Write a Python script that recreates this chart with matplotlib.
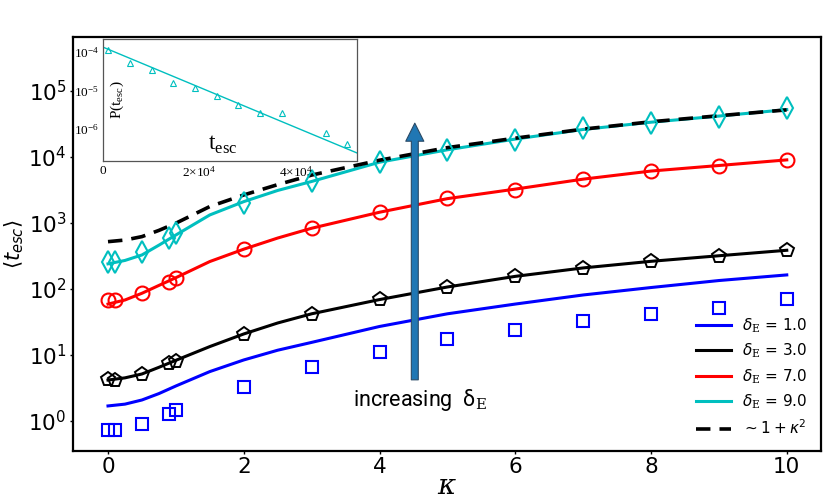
import numpy as np
import matplotlib
matplotlib.use('Agg')
import matplotlib.pyplot as plt

plt.rcParams['font.family'] = ['DejaVu Sans']
plt.rcParams['mathtext.fontset'] = 'custom'
plt.rcParams['mathtext.rm'] = 'DejaVu Serif'
plt.rcParams['mathtext.it'] = 'DejaVu Sans:italic'
plt.rcParams['mathtext.bf'] = 'DejaVu Sans:bold'

# simulation points
kappa_pts = [0, 0.1, 0.5, 0.9, 1, 2, 3, 4, 5, 6, 7, 8, 9, 10]
blue_pts = [0.73, 0.73, 0.89, 1.28, 1.47, 3.3, 6.5, 11.2, 17.3, 23.9, 32.7, 41.8, 52, 70]
black_pts = [4.28, 4.2, 5.15, 7.5, 8.2, 20.8, 42, 69.6, 108, 157, 210, 265, 316, 389]
red_pts = [68, 68, 86, 129, 148, 405, 830, 1450, 2350, 3170, 4650, 6150, 7400, 9000]
cyan_pts = [260, 255, 367, 585, 700, 1990, 4240, 8300, 12800, 18100, 27000, 33000, 40700, 54600]

# theory curves
kappa_line = [0, 0.25, 0.5, 0.75, 1, 1.5, 2, 2.5, 3, 4, 5, 6, 7, 8, 9, 10]
blue_line = [1.69, 1.8, 2.08, 2.6, 3.39, 5.6, 8.4, 11.8, 15.5, 27, 42, 59, 81, 105, 134, 163]
black_line = [4.17, 4.5, 5.15, 6.5, 8.3, 13.4, 20.8, 30.5, 42, 69, 107, 155, 208, 262, 318, 385]
red_line = [59, 68, 86, 113, 148, 260, 400, 590, 830, 1450, 2330, 3250, 4600, 6100, 7400, 9000]
cyan_line = [240, 270, 327, 460, 656, 1320, 2100, 3100, 4240, 8300, 12800, 18600, 26000, 33500, 41500, 52000]
scaling_line = [520, 550, 620, 770, 990, 1770, 2650, 3800, 5300, 8900, 13800, 19200, 26300, 34000, 42000, 51500]

# inset: distribution of escape times
t_esc = [1100, 5600, 10100, 14600, 19100, 23600, 28100, 32600, 37100, 46200, 50700]
p_esc = [1.12e-4, 5.1e-5, 3.4e-5, 1.55e-5, 1.17e-5, 7.2e-6, 4.2e-6, 2.6e-6, 2.6e-6, 7.9e-7, 4.1e-7]
t_fit = [0, 52700]
p_fit = [1.35e-4, 2.4e-7]

fig = plt.figure(figsize=(8.3, 5.0), dpi=100)
ax = fig.add_axes([0.0876, 0.0986, 0.9012, 0.828])

ax.plot(kappa_line, blue_line, color='b', lw=2.2, label=r'$\delta_{\mathrm{E}}$ = 1.0')
ax.plot(kappa_line, black_line, color='k', lw=2.2, label=r'$\delta_{\mathrm{E}}$ = 3.0')
ax.plot(kappa_line, red_line, color='r', lw=2.2, label=r'$\delta_{\mathrm{E}}$ = 7.0')
ax.plot(kappa_line, cyan_line, color='c', lw=2.2, label=r'$\delta_{\mathrm{E}}$ = 9.0')
ax.plot(kappa_line, scaling_line, color='k', lw=2.6, ls=(0, (4, 2.5)),
        label=r'$\sim1+\kappa^2$')

ax.plot(kappa_pts, blue_pts, 's', ms=9, mfc='none', mec='b', mew=1.5)
ax.plot(kappa_pts, black_pts, 'p', ms=10, mfc='none', mec='k', mew=1.4)
ax.plot(kappa_pts, red_pts, 'o', ms=10, mfc='none', mec='r', mew=1.5)
ax.plot(kappa_pts, cyan_pts, 'd', ms=11, mfc='none', mec='c', mew=1.5)

ax.set_yscale('log')
ax.set_xlim(-0.52, 10.5)
ax.set_ylim(10**-0.45, 10**5.82)
ax.set_xticks([0, 2, 4, 6, 8, 10])
ax.yaxis.set_minor_locator(matplotlib.ticker.NullLocator())
ax.tick_params(labelsize=15.5, length=2, width=1, pad=2.5)
for s in ax.spines.values():
    s.set_linewidth(1.6)

ax.set_xlabel('κ', fontsize=20, fontfamily='DejaVu Serif', fontstyle='italic', labelpad=-3)
ylab = ax.set_ylabel(r'$\langle t_{esc} \rangle$', fontsize=15, labelpad=2)
ylab.set_math_fontfamily('dejavusans')

ax.annotate('', xy=(4.52, 32400), xytext=(4.52, 4.2),
            arrowprops=dict(arrowstyle='simple,head_width=13,head_length=13,tail_width=5',
                            mutation_scale=1, fc='#2077b4', ec='#2a4a66', lw=0.8,
                            shrinkA=0, shrinkB=0))
ax.text(4.6, 2.1, r'increasing  δ$_{\mathrm{E}}$', fontsize=15.5, fontfamily='Roboto',
        ha='center', va='center')

leg = ax.legend(loc='lower right', frameon=False, fontsize=11, handlelength=2.3,
                handletextpad=0.7, labelspacing=0.45)
leg.get_texts()[-1].set_math_fontfamily('dejavusans')

# inset
axi = fig.add_axes([0.124, 0.678, 0.306, 0.244])
axi.plot(t_fit, p_fit, color='c', lw=1)
axi.plot(t_esc, p_esc, '^', ms=4.5, mfc='none', mec='c', mew=0.8)
axi.set_yscale('log')
axi.set_xlim(0, 52700)
axi.set_ylim(1.48e-7, 2.19e-4)
axi.set_yticks([1e-4, 1e-5, 1e-6])
axi.yaxis.set_minor_locator(matplotlib.ticker.NullLocator())
axi.set_xticks([0, 2e4, 4e4])
axi.set_xticklabels(['0', r'$\mathdefault{2{\times}10^{4}}$', r'$\mathdefault{4{\times}10^{4}}$'])
axi.tick_params(labelsize=9.5, length=0, pad=3, labelfontfamily='Liberation Serif')
for s in axi.spines.values():
    s.set_linewidth(0.9)
    s.set_color('#555555')
axi.text(0.47, 0.04, r't$_{\mathdefault{esc}}$', transform=axi.transAxes, fontsize=17,
         fontfamily='Liberation Serif', ha='center', va='bottom')
axi.text(0.055, 0.5, r'P(t$_{\mathdefault{esc}}$)', transform=axi.transAxes, fontsize=11,
         fontfamily='Liberation Serif', rotation=90, ha='center', va='center')

fig.savefig('out.png', dpi=100)
